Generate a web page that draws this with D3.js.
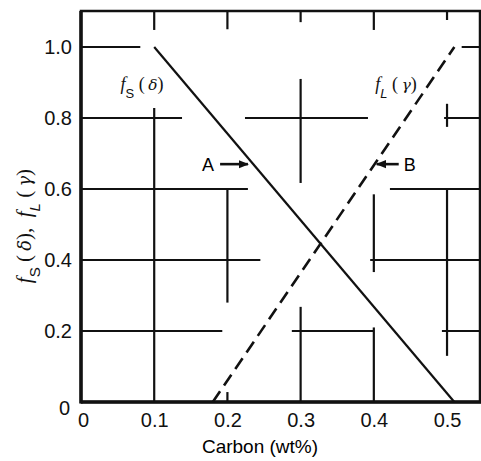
<!DOCTYPE html>
<html>
<head>
<meta charset="utf-8">
<script src="https://cdn.jsdelivr.net/npm/d3@7"></script>
<style>
  html, body { margin: 0; padding: 0; background: #fff; }
  svg { display: block; }
  .tick text { font-family: "Liberation Sans", Arial, sans-serif; font-size: 20px; fill: #111; }
</style>
</head>
<body>
<svg id="chart" width="481" height="461"></svg>
<script>
// Axis ticks
const xTicks = [0, 0.1, 0.2, 0.3, 0.4, 0.5];
const yTicks = [0, 0.2, 0.4, 0.6, 0.8, 1.0];

// Fraction solid delta (solid line) and fraction liquid gamma (dashed line) vs carbon
const solidCarbon = [0.10, 0.51];
const solidFraction = [1.0, 0.0];
const liquidCarbon = [0.18, 0.51];
const liquidFraction = [0.0, 1.0];

// Broken guide lines: horizontal [y, xStart, xEnd]
const guideH = [
  [1.0, 0.000, 0.081], [1.0, 0.520, 0.547],
  [0.8, 0.000, 0.138], [0.8, 0.224, 0.392], [0.8, 0.496, 0.547],
  [0.6, 0.000, 0.228], [0.6, 0.422, 0.547],
  [0.4, 0.000, 0.245], [0.4, 0.395, 0.547],
  [0.2, 0.000, 0.193], [0.2, 0.288, 0.400], [0.2, 0.493, 0.547]
];
// Broken guide lines: vertical [x, yStart, yEnd]
const guideV = [
  [0.1, 0.000, 0.828],
  [0.2, 0.280, 0.600], [0.2, 0.000, 0.028],
  [0.3, 0.617, 0.910], [0.3, 0.000, 0.268],
  [0.4, 0.366, 0.585], [0.4, 0.000, 0.210],
  [0.5, 0.130, 0.600], [0.5, 0.775, 0.840],
  // short inward ticks on the top border
  [0.1, 1.048, 1.101], [0.2, 1.050, 1.101], [0.3, 1.070, 1.101],
  [0.4, 1.048, 1.101], [0.5, 1.076, 1.101]
];

// Marked compositions A (on solid line) and B (on liquid line)
const markA = { label: "A", y: 0.67, from: 0.190, to: 0.228 };
const markB = { label: "B", y: 0.67, from: 0.434, to: 0.404 };

const svg = d3.select("#chart");
const x = d3.scaleLinear().domain([0, 0.5464]).range([81, 481]);
const y = d3.scaleLinear().domain([0, 1.1014]).range([402, 11]);

svg.append("defs").append("marker")
  .attr("id", "head").attr("viewBox", "0 0 10 10")
  .attr("refX", 9).attr("refY", 5)
  .attr("markerWidth", 4).attr("markerHeight", 4)
  .attr("markerUnits", "strokeWidth")
  .attr("orient", "auto")
  .append("path").attr("d", "M0,1 L10,5 L0,9 Z").attr("fill", "#111");

// guide segments
svg.append("g").selectAll("line.h").data(guideH).join("line")
  .attr("x1", d => x(d[1])).attr("x2", d => x(d[2]))
  .attr("y1", d => y(d[0])).attr("y2", d => y(d[0]))
  .attr("stroke", "#111").attr("stroke-width", 2);
svg.append("g").selectAll("line.v").data(guideV).join("line")
  .attr("x1", d => x(d[0])).attr("x2", d => x(d[0]))
  .attr("y1", d => y(d[1])).attr("y2", d => y(d[2]))
  .attr("stroke", "#111").attr("stroke-width", 2.2);

// frame
const [x0, x1] = x.range();
const [yb, yt] = y.range();
svg.append("rect")
  .attr("x", x0).attr("y", yt).attr("width", x1 - x0 - 1).attr("height", yb - yt)
  .attr("fill", "none").attr("stroke", "#111").attr("stroke-width", 2.5);
svg.append("line").attr("x1", x0).attr("x2", x0).attr("y1", yt).attr("y2", yb + 1.5)
  .attr("stroke", "#111").attr("stroke-width", 3.5);
svg.append("line").attr("x1", x0).attr("x2", x1).attr("y1", yb).attr("y2", yb)
  .attr("stroke", "#111").attr("stroke-width", 3.5);

// curves
const line = d3.line().x(d => x(d[0])).y(d => y(d[1]));
svg.append("path")
  .attr("d", line(d3.zip(solidCarbon, solidFraction)))
  .attr("fill", "none").attr("stroke", "#111").attr("stroke-width", 2.2);
svg.append("path")
  .attr("d", line(d3.zip(liquidCarbon, liquidFraction)))
  .attr("fill", "none").attr("stroke", "#111").attr("stroke-width", 2.6)
  .attr("stroke-dasharray", "13,7");

// axes (labels only)
const fmt = d => d === 0 ? "0" : d3.format(".1f")(d);
const ax = svg.append("g").attr("transform", `translate(0,${yb})`)
  .call(d3.axisBottom(x).tickValues(xTicks).tickFormat(fmt).tickSize(0).tickPadding(11));
ax.select(".domain").remove();
ax.selectAll(".tick text").attr("dx", d => d === 0 ? 2 : 0);
const ay = svg.append("g").attr("transform", `translate(${x0},0)`)
  .call(d3.axisLeft(y).tickValues(yTicks).tickFormat(fmt).tickSize(0).tickPadding(9));
ay.select(".domain").remove();
ay.selectAll(".tick text").attr("dy", d => d === 0 ? "0.6em" : "0.35em")
  .attr("dx", d => d === 0 ? -2 : 0);

// axis titles
svg.append("text")
  .attr("x", 260).attr("y", 453).attr("text-anchor", "middle")
  .style("font-family", "Liberation Sans, Arial, sans-serif").style("font-size", "19px")
  .text("Carbon (wt%)");

function fracLabel(sel, sub, greek) {
  sel.append("tspan").text("f").style("font-style", "italic")
    .style("font-family", "Liberation Serif, serif");
  sel.append("tspan").text(sub).attr("baseline-shift", "sub").style("font-size", "0.72em")
    .style("font-family", "Liberation Sans, sans-serif")
    .style("font-style", sub === "L" ? "italic" : "normal");
  sel.append("tspan").text(" (\u2009").style("font-family", "Liberation Serif, serif");
  sel.append("tspan").text(greek).style("font-style", "italic")
    .style("font-family", "DejaVu Serif, serif").style("font-size", "0.85em");
  sel.append("tspan").text(")").style("font-family", "Liberation Serif, serif");
}

const ylab = svg.append("text")
  .attr("transform", "translate(31,226) rotate(-90)")
  .attr("text-anchor", "middle").style("font-size", "21px").style("fill", "#111")
  .style("white-space", "pre");
fracLabel(ylab, "S", "δ");
ylab.append("tspan").text(",  ").style("font-family", "Liberation Serif, serif");
fracLabel(ylab, "L", "γ");

// curve labels
const labS = svg.append("text").attr("x", x(0.054)).attr("y", y(0.88))
  .style("font-size", "18px").style("fill", "#111");
fracLabel(labS, "S", "δ");
const labL = svg.append("text").attr("x", x(0.402)).attr("y", y(0.88))
  .style("font-size", "18px").style("fill", "#111");
fracLabel(labL, "L", "γ");

// A and B markers
[markA, markB].forEach(m => {
  svg.append("line")
    .attr("x1", x(m.from)).attr("x2", x(m.to))
    .attr("y1", y(m.y)).attr("y2", y(m.y))
    .attr("stroke", "#111").attr("stroke-width", 2.6)
    .attr("marker-end", "url(#head)");
  const left = m.from < m.to;
  svg.append("text")
    .attr("x", left ? x(m.from) - 6 : x(m.from) + 5)
    .attr("y", y(m.y)).attr("dy", "0.36em")
    .attr("text-anchor", left ? "end" : "start")
    .style("font-family", "Liberation Sans, Arial, sans-serif").style("font-size", "18px")
    .text(m.label);
});
</script>
</body>
</html>
